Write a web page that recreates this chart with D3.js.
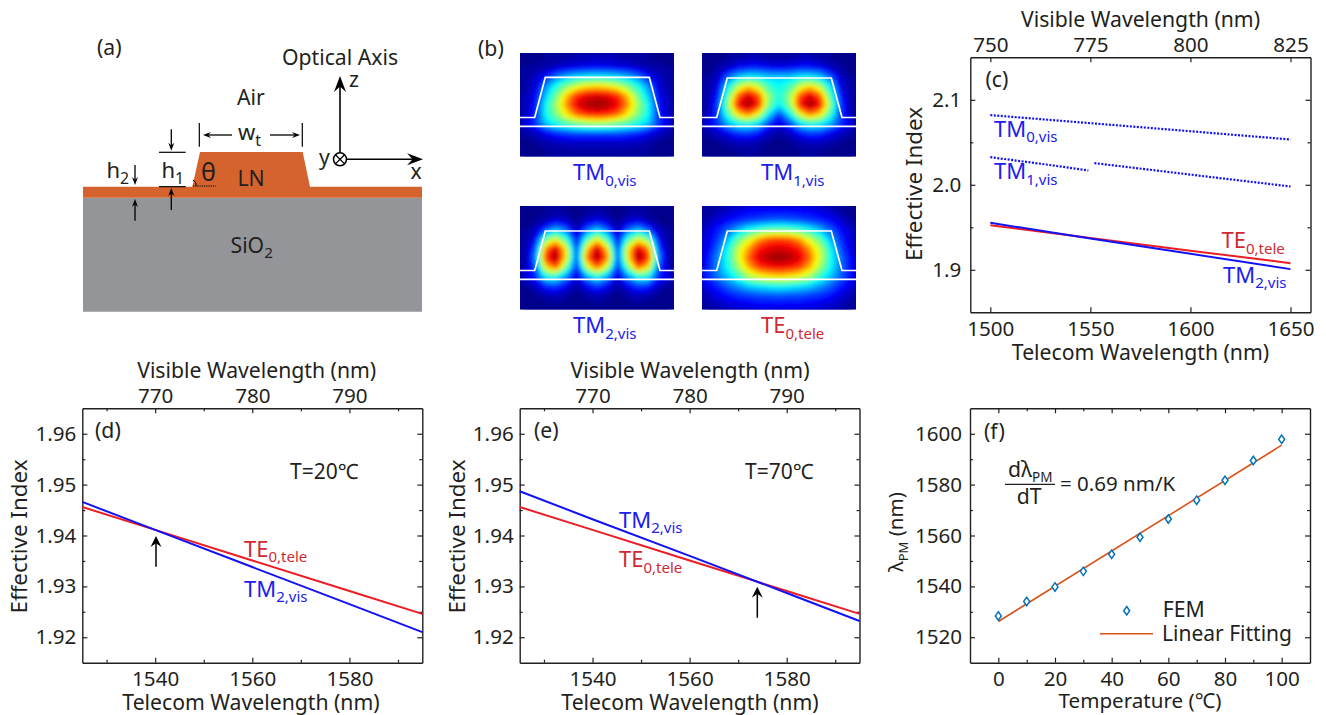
<!DOCTYPE html>
<html><head><meta charset="utf-8">
<style>
html,body{margin:0;padding:0;background:#fff}
svg{display:block}
text{font-family:"Noto Sans","Open Sans",sans-serif;fill:#231f20}
.domain{stroke:#231f20;stroke-width:1.4}
.tick line{stroke:#231f20;stroke-width:1.2}
</style>
<script src="https://cdn.jsdelivr.net/npm/d3@7/dist/d3.min.js"></script>
</head><body><svg id="fig" width="1326" height="715"></svg>
<script>
// ---------- panel (c) ----------
const cTelecom=[1500,1550,1600,1650];
const cTmZeroX=[1500,1550,1600,1650];
const cTmZero=[2.082,2.0725,2.063,2.0533];
const cTmOneAX=[1500,1525,1549];
const cTmOneA=[2.0325,2.0248,2.0169];
const cTmOneBX=[1552,1600,1650];
const cTmOneB=[2.0255,2.012,1.998];
const cTe=[1.9525,1.9375,1.9225,1.9078];
const cTm=[1.9553,1.9368,1.9188,1.9008];
// ---------- panel (d), (e) ----------
const dTelecom=[1525,1540,1560,1580,1595];
const dTe=[1.9456,1.9411,1.9351,1.9291,1.9246];
const dTm=[1.9466,1.9411,1.9338,1.9265,1.9210];
const eTe=[1.9456,1.9411,1.9351,1.9291,1.9246];
const eTm=[1.9487,1.9432,1.9360,1.9287,1.9232];
// ---------- panel (f) ----------
const fTemp=[0,10,20,30,40,50,60,70,80,90,100];
const fFem=[1528.4,1534.1,1539.8,1545.9,1552.6,1559.3,1566.5,1573.9,1581.7,1589.5,1597.8];
const fFitX=[0,100];
const fFit=[1526.2,1595.5];
// ---------- panel (b): mode intensity read on a 15 x 11 grid ----------
const modeTm0=[
[1,1,2,2,3,4,4,5,4,4,3,2,2,1,1],
[2,3,4,6,8,9,10,11,10,9,8,6,4,3,2],
[3,6,12,22,28,32,34,35,34,32,28,22,12,6,3],
[3,7,24,38,50,60,66,68,66,60,50,38,24,7,3],
[4,10,30,48,70,86,92,94,92,86,70,48,30,10,4],
[4,12,36,54,76,92,98,100,98,92,76,54,36,12,4],
[5,14,36,50,66,80,86,88,86,80,66,50,36,14,5],
[8,16,30,38,44,48,52,54,52,48,44,38,30,16,8],
[3,6,10,14,16,18,18,18,18,18,16,14,10,6,3],
[1,2,4,5,6,6,6,6,6,6,6,5,4,2,1],
[1,1,2,2,2,3,3,3,3,3,2,2,2,1,1]];
const modeTm1=[
[1,1,2,3,4,4,3,3,3,4,4,3,2,1,1],
[1,3,6,10,12,12,10,9,10,12,12,10,6,3,1],
[2,6,20,30,34,34,30,30,30,34,34,30,20,6,2],
[3,8,34,56,68,58,42,36,42,58,68,56,34,8,3],
[3,12,44,80,94,82,52,38,52,82,94,80,44,12,3],
[3,16,52,90,100,88,50,34,50,88,100,90,52,16,3],
[4,16,42,68,78,62,34,16,34,62,78,68,42,16,4],
[8,16,28,36,38,32,16,8,16,32,38,36,28,16,8],
[3,6,10,15,16,12,6,3,6,12,16,15,10,6,3],
[1,2,4,5,5,4,2,1,2,4,5,5,4,2,1],
[1,1,1,2,2,2,1,1,1,2,2,2,1,1,1]];
const modeTm2=[
[1,1,2,2,2,1,2,3,2,1,2,2,2,1,1],
[1,2,4,8,6,2,6,9,6,2,6,8,4,2,1],
[2,6,18,28,20,5,20,30,20,5,20,28,18,6,2],
[2,10,48,62,42,9,42,64,42,9,42,62,48,10,2],
[3,18,76,95,64,14,68,96,68,14,64,95,76,18,3],
[3,24,86,100,66,16,78,100,78,16,66,100,86,24,3],
[4,18,66,82,48,12,58,80,58,12,48,82,66,18,4],
[8,14,36,38,24,8,26,38,26,8,24,38,36,14,8],
[2,6,14,16,10,3,10,16,10,3,10,16,14,6,2],
[1,2,4,5,3,1,3,5,3,1,3,5,4,2,1],
[1,1,1,2,1,1,1,2,1,1,1,2,1,1,1]];
const modeTe=[
[2,4,6,8,10,10,11,11,11,10,10,8,6,3,1],
[4,8,11,14,16,18,19,20,19,18,16,14,11,7,3],
[7,13,20,28,36,42,46,47,46,42,36,28,20,12,6],
[8,16,28,46,60,74,82,84,82,74,60,46,28,15,7],
[9,20,36,58,74,88,92,94,92,88,74,58,36,18,8],
[11,24,38,60,80,93,98,100,98,93,80,60,38,22,10],
[12,24,36,54,72,84,88,90,88,84,72,54,36,22,11],
[14,22,30,40,54,62,66,68,66,62,54,40,30,20,12],
[9,14,20,25,30,33,35,36,35,33,30,25,20,13,8],
[5,9,12,15,16,18,18,19,18,18,16,15,12,8,4],
[3,5,7,8,9,10,10,10,10,10,9,8,7,5,2]];

const BLUE="#1212f5",RED="#ed1c24",BLUET="#2020ee",REDT="#cf2a33",FS=21.2,TICK=20.6;
const svg=d3.select("#fig");
const defs=svg.append("defs");

function label(x,y,parts,opt={}){
  const t=svg.append("text").attr("x",x).attr("y",y)
    .attr("font-size",opt.size||FS).attr("text-anchor",opt.anchor||"start")
    .style("fill",opt.fill||"#231f20");
  if(opt.rotate!==undefined) t.attr("transform",`rotate(${opt.rotate},${x},${y})`);
  if(typeof parts==="string") parts=[[parts]];
  const size=opt.size||FS, subSize=opt.subSize||size*0.72;
  parts.forEach(p=>{
    const s=t.append("tspan").text(p[0]);
    if(p[1]) s.attr("font-size",subSize).attr("dy",size*0.26);
    else if(t.selectAll("tspan").size()>1) s.attr("dy",-size*0.26);
  });
  return t;
}
function arrow(x1,y1,x2,y2,head=9,hw=3.5,w=1.3){
  const a=Math.atan2(y2-y1,x2-x1),c=Math.cos(a),s=Math.sin(a);
  svg.append("line").attr("x1",x1).attr("y1",y1).attr("x2",x2-c*head*.6).attr("y2",y2-s*head*.6)
    .attr("stroke","#000").attr("stroke-width",w);
  svg.append("path").attr("fill","#000")
    .attr("d",d3.line()([[x2,y2],[x2-c*head-s*hw,y2-s*head+c*hw],[x2-c*head*.65,y2-s*head*.65],[x2-c*head+s*hw,y2-s*head-c*hw]])+"Z");
}
const seg=(x1,y1,x2,y2,w=1.2,col="#000")=>svg.append("line").attr("x1",x1).attr("y1",y1).attr("x2",x2).attr("y2",y2).attr("stroke",col).attr("stroke-width",w);

// ---------- framed plot ----------
function frame(c){
  const x=d3.scaleLinear().domain(c.xDomain).range([c.l,c.r]);
  const y=d3.scaleLinear().domain(c.yDomain).range([c.b,c.t]);
  const TK=5,MN=3;
  const add=(ax,tr)=>svg.append("g").attr("transform",tr).call(ax)
      .call(g=>g.selectAll("text").style("font-family",'"Noto Sans"').attr("font-size",TICK).style("fill","#231f20"));
  const minor=(ax,tr)=>svg.append("g").attr("transform",tr).call(ax.tickFormat("").tickSizeOuter(0)).call(g=>g.select(".domain").remove());
  minor(d3.axisLeft(y).tickValues(c.yMinor).tickSizeInner(-MN),`translate(${c.l},0)`);
  minor(d3.axisRight(y).tickValues(c.yMinor).tickSizeInner(-MN),`translate(${c.r},0)`);
  minor(d3.axisBottom(x).tickValues(c.xMinor).tickSizeInner(-MN),`translate(0,${c.b})`);
  minor(d3.axisTop(x).tickValues(c.xMinor).tickSizeInner(-MN),`translate(0,${c.t})`);
  add(d3.axisLeft(y).tickValues(c.yTicks).tickFormat(d3.format(c.yFmt)).tickSizeInner(-TK).tickSizeOuter(0).tickPadding(c.yPad),`translate(${c.l},0)`);
  add(d3.axisRight(y).tickValues(c.yTicks).tickFormat("").tickSizeInner(-TK).tickSizeOuter(0),`translate(${c.r},0)`);
  add(d3.axisBottom(x).tickValues(c.xTicks).tickFormat(d3.format("d")).tickSizeInner(-TK).tickSizeOuter(0).tickPadding(9),`translate(0,${c.b})`);
  if(c.topTicks){
    const xTop=d3.scaleLinear().domain(c.xDomain.map(v=>v/2)).range([c.l,c.r]);
    add(d3.axisTop(xTop).tickValues(c.topTicks).tickFormat(d3.format("d")).tickSizeInner(-TK).tickSizeOuter(0).tickPadding(5),`translate(0,${c.t})`);
  } else {
    add(d3.axisTop(x).tickValues(c.xTicks).tickFormat("").tickSizeInner(-TK).tickSizeOuter(0),`translate(0,${c.t})`);
  }
  return {x,y};
}
function curve(p,xs,ys,col,w=2,dash){
  const s=svg.append("path")
    .attr("d",d3.line().x(d=>p.x(d[0])).y(d=>p.y(d[1]))(d3.zip(xs,ys)))
    .attr("fill","none").attr("stroke",col).attr("stroke-width",w);
  if(dash) s.attr("stroke-dasharray",dash);
}

// ---------- (a) schematic ----------
label(97,55,"(a)");
const waveX=d3.scaleLinear().domain([0,339]).range([83,422]);
const waveY=d3.scaleLinear().domain([0,160]).range([152,312]);
const lnOutline=[[0,34.7],[109.3,34.7],[117,0],[219.7,0],[227,34.7],[339,34.7],[339,45.7],[0,45.7]];
const silica=[[0,45.7],[339,45.7],[339,159.7],[0,159.7]];
const schem=d3.line().x(d=>waveX(d[0])).y(d=>waveY(d[1]));
svg.append("path").attr("d",schem(silica)+"Z").attr("fill","#939598");
svg.append("path").attr("d",schem(lnOutline)+"Z").attr("fill","#d4632d");
label(282,65,"Optical Axis");
label(237,105,"Air");
label(237.5,186,"LN");
label(230.5,252.5,[["SiO"],["2",1]]);
label(238,140,[["w"],["t",1]],{size:22});
label(161.5,178,[["h"],["1",1]],{size:22});
label(106.5,178,[["h"],["2",1]],{size:22});
label(201,180.5,"θ",{size:25});
label(349,87,"z");label(410.5,179,"x");label(319,165,"y");
seg(199.3,123,199.3,146.7);seg(302.3,123,302.3,146.7);
arrow(232,135,203,135,8,3);arrow(270,135,300,135,8,3);
seg(159,152.3,185.7,152.3);seg(159,186.7,185.7,186.7);
arrow(171.3,129.3,171.3,150.7,8,3);arrow(171.3,210,171.3,188,8,3);
arrow(135,165,135,185,8,3);arrow(135,220.7,135,199,8,3);
seg(193,186,215.7,186,1.2,"#000").attr("stroke-dasharray","1.2 1");
svg.append("path").attr("d","M196,186 A6,6 0 0 0 193,180").attr("fill","none").attr("stroke","#000").attr("stroke-width",1);
arrow(340,153,340,76,16,6,1.6);
arrow(347,159.3,423,159.3,16,6,1.6);
svg.append("circle").attr("cx",340).attr("cy",159.3).attr("r",6.5).attr("fill","#fff").attr("stroke","#000").attr("stroke-width",1.5);
seg(335.4,154.7,344.6,163.9,1.3);seg(335.4,163.9,344.6,154.7,1.3);

// ---------- (b) mode maps ----------
label(478,56,"(b)");
const jet=d3.scaleLinear().domain([0,11,35,50,65,90,102])
  .range(["#00007f","#0000ff","#00ffff","#7fff7f","#ffff00","#ff0000","#7f0000"]);
defs.append("filter").attr("id","soft").attr("x","-10%").attr("y","-10%").attr("width","120%").attr("height","120%")
  .append("feGaussianBlur").attr("stdDeviation",2.2);
function modeMap(id,grid,px,py,lineY){
  const W=154,H=103.7,ny=grid.length,nx=grid[0].length;
  const sx=d3.scaleLinear().domain([0,nx]).range([0,W]);
  const sy=d3.scaleLinear().domain([0,ny]).range([0,H]);
  defs.append("clipPath").attr("id","c"+id).append("rect").attr("width",W).attr("height",H);
  const g=svg.append("g").attr("transform",`translate(${px},${py})`);
  const inner=g.append("g").attr("clip-path",`url(#c${id})`);
  inner.append("rect").attr("width",W).attr("height",H).attr("fill",jet(2));
  const cont=d3.contours().size([nx,ny]).thresholds(d3.range(0,101,2))(grid.flat());
  const path=d3.geoPath(d3.geoTransform({point(x,y){this.stream.point(sx(x),sy(y));}}));
  inner.append("g").attr("filter","url(#soft)").selectAll("path").data(cont).join("path")
    .attr("d",path).attr("fill",d=>jet(d.value+1));
  const ol=[[0,64.5],[14.7,64.5],[25.3,lineY],[129.3,lineY],[140,64.5],[154,64.5]];
  g.append("path").attr("d",d3.line()(ol)).attr("fill","none").attr("stroke","#fff").attr("stroke-width",1.7);
  g.append("line").attr("x1",0).attr("x2",W).attr("y1",73.4).attr("y2",73.4).attr("stroke","#fff").attr("stroke-width",1.7);
}
modeMap("m0",modeTm0,520,53,24.3);
modeMap("m1",modeTm1,702,53,25);
modeMap("m2",modeTm2,520,206,25);
modeMap("m3",modeTe,702,206,25);
const bl={size:22,subSize:15};
label(573,180,[["TM"],["0,vis",1]],{...bl,fill:BLUET});
label(761,180,[["TM"],["1,vis",1]],{...bl,fill:BLUET});
label(573,333,[["TM"],["2,vis",1]],{...bl,fill:BLUET});
label(761,333,[["TE"],["0,tele",1]],{...bl,fill:REDT});

// ---------- (c) ----------
const pc=frame({l:970.3,r:1310.5,t:57.3,b:312.3,xDomain:[1490,1660],yDomain:[1.85,2.15],yPad:9,
  xTicks:cTelecom,xMinor:[],yTicks:[1.9,2.0,2.1],yMinor:[1.95,2.05],yFmt:".1f",topTicks:[750,775,800,825]});
curve(pc,cTmZeroX,cTmZero,BLUE,2.2,"2 1.5");
curve(pc,cTmOneAX,cTmOneA,BLUE,2.2,"2 1.5");
curve(pc,cTmOneBX,cTmOneB,BLUE,2.2,"2 1.5");
curve(pc,cTelecom,cTe,RED);
curve(pc,cTelecom,cTm,BLUE);
label(1140.5,27,"Visible Wavelength (nm)",{anchor:"middle"});
label(1140.5,360,"Telecom Wavelength (nm)",{anchor:"middle"});
label(922,184,"Effective Index",{anchor:"middle",rotate:-90,size:22.4});
label(985.5,87,"(c)");
label(994,136.7,[["TM"],["0,vis",1]],{...bl,fill:BLUET});
label(994,179,[["TM"],["1,vis",1]],{...bl,fill:BLUET});
label(1221.5,248,[["TE"],["0,tele",1]],{...bl,fill:REDT});
label(1223,282.7,[["TM"],["2,vis",1]],{...bl,fill:BLUET});

// ---------- (d), (e) ----------
const wlFrame=(l,r)=>frame({l,r,t:408.3,b:662.7,xDomain:[1525,1595],yDomain:[1.915,1.965],yPad:6,
  xTicks:[1540,1560,1580],xMinor:[1530,1550,1570,1590],yTicks:[1.92,1.93,1.94,1.95,1.96],
  yMinor:[1.925,1.935,1.945,1.955],yFmt:".2f",topTicks:[770,780,790]});
const pd=wlFrame(82.3,422.3);
curve(pd,dTelecom,dTe,RED);curve(pd,dTelecom,dTm,BLUE);
label(256.7,378,"Visible Wavelength (nm)",{anchor:"middle"});
label(251,710,"Telecom Wavelength (nm)",{anchor:"middle"});
label(27,536.5,"Effective Index",{anchor:"middle",rotate:-90,size:22.4});
label(95,438,"(d)");
label(290,479,"T=20℃",{size:21});
label(244,556.7,[["TE"],["0,tele",1]],{...bl,fill:REDT});
label(244,596.7,[["TM"],["2,vis",1]],{...bl,fill:BLUET});
arrow(156,566.7,156,536,11,5.5,1.5);

const pe=wlFrame(519.7,859.5);
curve(pe,dTelecom,eTe,RED);curve(pe,dTelecom,eTm,BLUE);
label(690,378,"Visible Wavelength (nm)",{anchor:"middle"});
label(690,710,"Telecom Wavelength (nm)",{anchor:"middle"});
label(465,536.5,"Effective Index",{anchor:"middle",rotate:-90,size:22.4});
label(534,438,"(e)");
label(745,479,"T=70℃",{size:21});
label(619,527.7,[["TM"],["2,vis",1]],{...bl,fill:BLUET});
label(619,567,[["TE"],["0,tele",1]],{...bl,fill:REDT});
arrow(757.3,617.7,757.3,586.7,11,5.5,1.5);

// ---------- (f) ----------
const pf=frame({l:970,r:1310,t:408.3,b:662.7,xDomain:[-10,110],yDomain:[1510,1610],yPad:8,
  xTicks:[0,20,40,60,80,100],xMinor:[10,30,50,70,90],yTicks:[1520,1540,1560,1580,1600],
  yMinor:[1530,1550,1570,1590],yFmt:"d"});
curve(pf,fFitX,fFit,"#d95319",1.6);
const diamond="M0,-4.2L3,0L0,4.2L-3,0Z";
const symb=(x,y)=>svg.append("path").attr("d",diamond).attr("transform",`translate(${x},${y})`)
  .attr("fill","#fff").attr("stroke","#0072bd").attr("stroke-width",1.5);
d3.zip(fTemp,fFem).forEach(d=>symb(pf.x(d[0]),pf.y(d[1])));
label(1140,708,"Temperature (℃)",{anchor:"middle",size:20.6});
label(903,532,[["λ"],["PM",1],[" (nm)"]],{anchor:"middle",rotate:-90,size:20.6,subSize:13});
label(984,439,"(f)");
label(1008,476.7,[["dλ"],["PM",1]],{subSize:13.5});
seg(1005,484.3,1055,484.3,1.2,"#231f20");
label(1016.7,504,"dT");
label(1060,490.7,"= 0.69 nm/K",{size:20.5});
symb(1126.7,610.7);
label(1162.7,617,"FEM");
seg(1100,633.7,1153,633.7,1.6,"#d95319");
label(1162,640.7,"Linear Fitting",{size:21});
</script></body></html>
